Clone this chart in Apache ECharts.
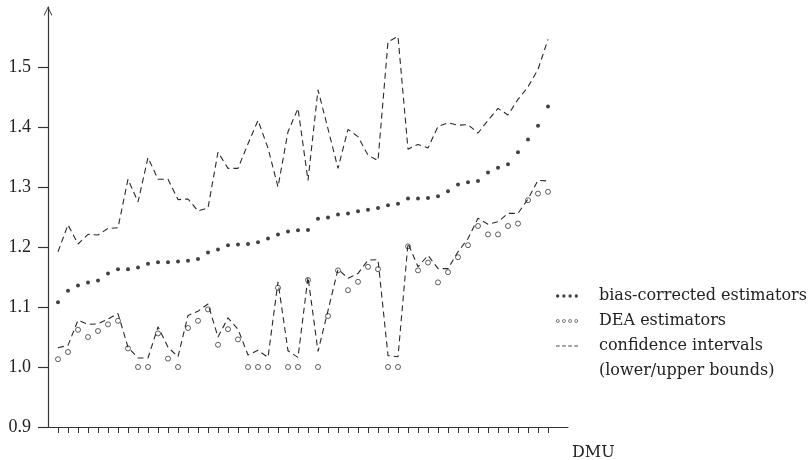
<!DOCTYPE html>
<html>
<head>
<meta charset="utf-8">
<script src="https://cdn.jsdelivr.net/npm/echarts@6/dist/echarts.min.js"></script>
<style>
  html, body { margin: 0; padding: 0; background: #fff; }
  #chart { width: 810px; height: 460px; }
</style>
</head>
<body>
<div id="chart"></div>
<script>
// Efficiency scores per decision-making unit (DMU), sorted by the bias-corrected estimate
const dmuIndex = Array.from({ length: 50 }, (_, i) => i + 1);

const biasCorrected = [
  1.108, 1.127, 1.136, 1.141, 1.144, 1.156, 1.163, 1.163, 1.166, 1.172,
  1.1745, 1.1745, 1.176, 1.177, 1.180, 1.191, 1.196, 1.203, 1.204, 1.205,
  1.208, 1.214, 1.221, 1.226, 1.228, 1.2285, 1.247, 1.249, 1.254, 1.256,
  1.2595, 1.262, 1.265, 1.2695, 1.272, 1.2807, 1.281, 1.2817, 1.2845, 1.293,
  1.304, 1.308, 1.310, 1.324, 1.332, 1.338, 1.358, 1.379, 1.402, 1.434
];

const deaEstimates = [
  1.013, 1.025, 1.062, 1.050, 1.060, 1.071, 1.077, 1.031, 1.000, 1.000,
  1.056, 1.014, 1.000, 1.065, 1.077, 1.096, 1.037, 1.063, 1.046, 1.000,
  1.000, 1.000, 1.132, 1.000, 1.000, 1.145, 1.000, 1.085, 1.161, 1.128,
  1.142, 1.167, 1.163, 1.000, 1.000, 1.201, 1.161, 1.174, 1.141, 1.158,
  1.183, 1.203, 1.235, 1.221, 1.221, 1.235, 1.239, 1.278, 1.289, 1.292
];

const lowerBound = [
  1.032, 1.036, 1.078, 1.071, 1.072, 1.080, 1.089, 1.033, 1.015, 1.015,
  1.067, 1.033, 1.017, 1.086, 1.093, 1.105, 1.050, 1.082, 1.063, 1.020,
  1.028, 1.016, 1.142, 1.027, 1.016, 1.150, 1.026, 1.094, 1.163, 1.148,
  1.156, 1.178, 1.179, 1.019, 1.017, 1.206, 1.167, 1.186, 1.164, 1.164,
  1.192, 1.214, 1.248, 1.238, 1.242, 1.256, 1.256, 1.280, 1.311, 1.310
];

const upperBound = [
  1.192, 1.237, 1.205, 1.221, 1.220, 1.231, 1.232, 1.313, 1.275, 1.349,
  1.313, 1.313, 1.279, 1.280, 1.260, 1.265, 1.358, 1.331, 1.331, 1.372,
  1.411, 1.365, 1.300, 1.392, 1.431, 1.311, 1.462, 1.397, 1.331, 1.396,
  1.384, 1.353, 1.344, 1.542, 1.551, 1.363, 1.371, 1.365, 1.401, 1.407,
  1.403, 1.404, 1.390, 1.411, 1.431, 1.420, 1.446, 1.467, 1.496, 1.546
];

const yTicks = [0.9, 1.0, 1.1, 1.2, 1.3, 1.4, 1.5];

const TICK_FONT = '"Liberation Serif", "DejaVu Serif", serif';
const TEXT_FONT = '"DejaVu Serif", "Liberation Serif", serif';
const INK = '#222';

const pairs = vals => vals.map((v, i) => [dmuIndex[i], v]);

// legend keys: four dots, four rings, four dashes
function dotsPath(r) {
  let p = 'path://';
  for (let k = 0; k < 4; k++) {
    const cx = r + 6 * k;
    p += `M${cx - r},${r} a${r},${r} 0 1,0 ${2 * r},0 a${r},${r} 0 1,0 ${-2 * r},0 Z `;
  }
  return p;
}
function ringsPath(ro, ri) {
  let p = 'path://';
  for (let k = 0; k < 4; k++) {
    const cx = ro + 6 * k;
    p += `M${cx - ro},${ro} a${ro},${ro} 0 1,0 ${2 * ro},0 a${ro},${ro} 0 1,0 ${-2 * ro},0 Z `;
    p += `M${cx - ri},${ro} a${ri},${ri} 0 1,1 ${2 * ri},0 a${ri},${ri} 0 1,1 ${-2 * ri},0 Z `;
  }
  return p;
}
function dashesPath() {
  let p = 'path://';
  for (let k = 0; k < 4; k++) {
    p += `M${6 * k},0 h3.6 v1 h-3.6 Z `;
  }
  return p;
}

const dashed = { color: '#2a2a2a', width: 1.1, type: [6, 4] };

const chart = echarts.init(document.getElementById('chart'), null, { renderer: 'canvas' });

chart.setOption({
  animation: false,
  backgroundColor: '#fff',
  grid: { left: 48, top: 7, width: 520, height: 420, containLabel: false, outerBoundsMode: 'none' },
  xAxis: {
    type: 'value',
    min: 0,
    max: 52,
    name: 'DMU',
    nameLocation: 'end',
    nameGap: 4,
    nameTextStyle: {
      fontFamily: TEXT_FONT, fontSize: 16, color: INK,
      align: 'left', verticalAlign: 'top', padding: [18, 0, 0, 0]
    },
    splitLine: { show: false },
    axisLine: { onZero: false, lineStyle: { color: '#333', width: 1.2 } },
    axisTick: { show: true, inside: false, length: 6, customValues: dmuIndex,
                lineStyle: { color: '#333', width: 1 } },
    axisLabel: { show: false }
  },
  yAxis: {
    type: 'value',
    min: 0.9,
    max: 1.6,
    splitLine: { show: false },
    axisLine: {
      show: true,
      onZero: false,
      lineStyle: { color: '#333', width: 1.2 },
      symbol: ['none', 'path://M0,10 L5,0 L10,10 L9,10.4 L5,2 L1,10.4 Z'],
      symbolSize: [10, 9],
      symbolOffset: [0, -4]
    },
    axisTick: { show: true, inside: false, length: 10, customValues: yTicks,
                lineStyle: { color: '#333', width: 1.2 } },
    axisLabel: {
      customValues: yTicks,
      margin: 17,
      fontFamily: TICK_FONT, fontSize: 18, color: INK,
      formatter: v => v.toFixed(1)
    }
  },
  legend: {
    orient: 'vertical',
    left: 551,
    top: 281,
    itemWidth: 22,
    itemHeight: 10,
    itemGap: 5,
    selectedMode: false,
    symbolKeepAspect: true,
    textStyle: { fontFamily: TEXT_FONT, fontSize: 16, color: INK, lineHeight: 20,
                 padding: [0, 0, 0, 16] },
    data: [
      { name: 'bias-corrected estimators', icon: dotsPath(1.6), itemStyle: { color: '#111', borderWidth: 0 } },
      { name: 'DEA estimators', icon: ringsPath(1.8, 1.05), itemStyle: { color: '#222', borderWidth: 0 } },
      { name: 'confidence intervals', icon: dashesPath(), itemStyle: { color: '#444', borderWidth: 0 } },
      { name: '(lower/upper bounds)', icon: 'rect', itemStyle: { color: 'rgba(0,0,0,0)', borderWidth: 0 } }
    ]
  },
  series: [
    {
      name: 'confidence intervals',
      type: 'line',
      symbol: 'none',
      data: pairs(upperBound),
      lineStyle: dashed,
      itemStyle: { color: '#333' },
      z: 2
    },
    {
      name: 'confidence intervals',
      type: 'line',
      symbol: 'none',
      data: pairs(lowerBound),
      lineStyle: dashed,
      itemStyle: { color: '#333' },
      z: 2
    },
    {
      name: '(lower/upper bounds)',
      type: 'line',
      symbol: 'none',
      data: [],
      lineStyle: { width: 0, color: 'rgba(0,0,0,0)' },
      itemStyle: { color: 'rgba(0,0,0,0)' }
    },
    {
      name: 'bias-corrected estimators',
      type: 'scatter',
      symbol: 'circle',
      symbolSize: 4,
      data: pairs(biasCorrected),
      itemStyle: { color: '#111' },
      z: 3
    },
    {
      name: 'DEA estimators',
      type: 'scatter',
      symbol: 'circle',
      symbolSize: 5,
      data: pairs(deaEstimates),
      itemStyle: { color: 'rgba(0,0,0,0)', borderColor: '#222', borderWidth: 0.9 },
      z: 3
    }
  ]
});
</script>
</body>
</html>
